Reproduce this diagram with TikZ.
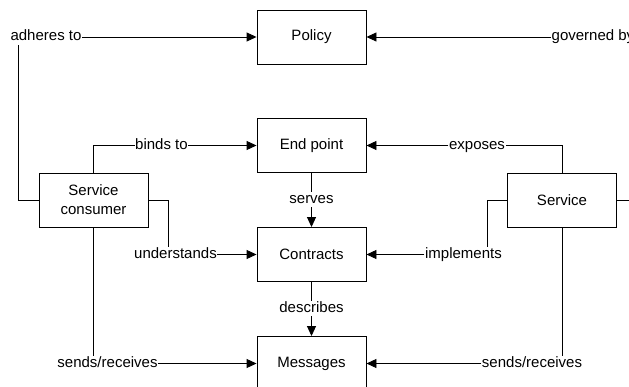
\documentclass[tikz,border=0pt]{standalone}
\usepackage{fontspec}
\setmainfont{Liberation Sans}
\usetikzlibrary{arrows.meta}
\begin{document}
\begin{tikzpicture}[x=1pt,y=-1pt,
  box/.style={draw, line width=0.9pt, minimum width=109pt, minimum height=54pt, inner sep=0pt, align=center, font=\fontsize{15}{19}\selectfont},
  lbl/.style={inner sep=0.5pt, text height=11pt, text depth=3pt, font=\fontsize{15}{19}\selectfont},
  conn/.style={line width=0.9pt},
  arr/.style={line width=0.9pt, -{Triangle[length=10pt,width=9pt]}}]
\clip (0,0) rectangle (629,387);
\fill[white] (0,0) rectangle (629,387);
% boxes
\node[box] (pol) at (311.5,37) {Policy};
\node[box] (ep) at (311.5,145.5) {End point};
\node[box] (con) at (311.5,254.5) {Contracts};
\node[box] (msg) at (311.5,363.5) {Messages};
\node[box] (cons) at (93.5,200) {Service\\consumer};
\node[box] (svc) at (562,200) {Service};
% labels
\node[lbl] (adh) at (46,37) {adheres to};
\node[lbl, anchor=west] (gov) at (551,37) {governed by};
\node[lbl] (binds) at (161.5,145.5) {binds to};
\node[lbl] (expo) at (477,145.5) {exposes};
\node[lbl] (und) at (175.5,254.5) {understands};
\node[lbl] (impl) at (463.5,254.5) {implements};
\node[lbl] (sr1) at (107.5,363.5) {sends/receives};
\node[lbl] (sr2) at (532,363.5) {sends/receives};
\node[lbl] (serv) at (311.5,199.5) {serves};
\node[lbl] (desc) at (311.5,308.5) {describes};
% bend points
\coordinate (ac) at (18,200);
\coordinate (uc) at (168,200);
\coordinate (ic) at (487,200);
\coordinate (rc) at (640,200);
% connectors
\draw[conn] (cons.west) -- (ac) -- (ac |- adh.south);
\draw[arr] (adh.east) -- (adh.east -| pol.west);
\draw[arr] (gov.west) -- (gov.west -| pol.east);
\draw[conn] (cons.north) |- (binds.west);
\draw[arr] (binds.east) -- (binds.east -| ep.west);
\draw[conn] (svc.north) |- (expo.east);
\draw[arr] (expo.west) -- (expo.west -| ep.east);
\draw[conn] (cons.east) -- (uc) -- (uc |- und.north);
\draw[arr] (und.east) -- (und.east -| con.west);
\draw[conn] (svc.west) -- (ic) -- (ic |- impl.north);
\draw[arr] (impl.west) -- (impl.west -| con.east);
\draw[conn] (cons.south) -- (cons.south |- sr1.north);
\draw[arr] (sr1.east) -- (sr1.east -| msg.west);
\draw[conn] (svc.south) -- (svc.south |- sr2.north);
\draw[arr] (sr2.west) -- (sr2.west -| msg.east);
\draw[conn] (ep.south) -- (serv.north);
\draw[arr] (serv.south) -- (con.north);
\draw[conn] (con.south) -- (desc.north);
\draw[arr] (desc.south) -- (msg.north);
\draw[conn] (svc.east) -- (rc);
\end{tikzpicture}
\end{document}
